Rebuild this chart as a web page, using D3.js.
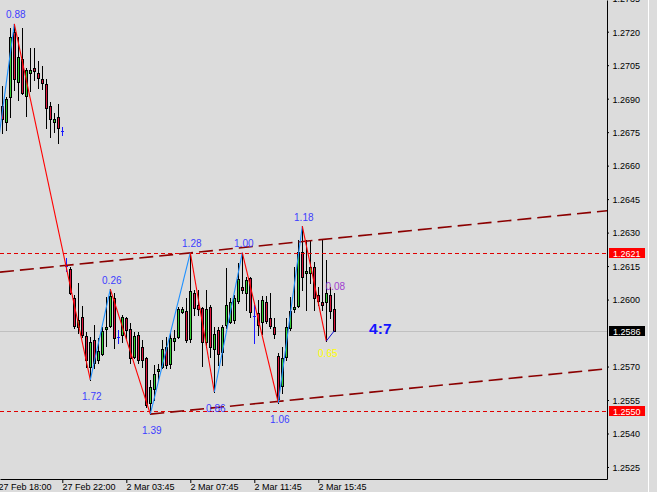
<!DOCTYPE html>
<html><head><meta charset="utf-8">
<script src="https://cdn.jsdelivr.net/npm/d3@7"></script>
<style>
html,body{margin:0;padding:0;background:#dcdcdc;overflow:hidden}
svg{display:block}
</style></head><body>
<svg id="c" width="657" height="492"></svg>
<script>
// ---- data (M15 bars, index 0 = 27 Feb 18:15) ----
const open = [1.26867,1.26795,1.26906,1.27197,1.26973,1.27076,1.26913,1.27014,1.27037,1.27015,1.26988,1.26964,1.26867,1.26794,1.26817,1.26755,
1.26150,1.26137,1.26007,1.25876,1.25923,1.25837,1.25697,1.25819,1.25729,1.25756,1.25868,1.25883,1.26008,1.25834,1.25841,1.25916,1.25867,1.25744,1.25841,1.25786,
1.25737,1.25535,1.25598,1.25680,1.25697,1.25786,1.25711,1.25816,1.25834,1.25946,1.25949,1.25822,1.26031,1.25976,1.25964,1.25811,1.25968,1.25777,1.25864,1.25766,
1.25886,1.25901,1.25908,1.25995,1.26058,1.26028,1.26095,1.25926,1.25938,1.25898,1.25988,1.25919,1.25878,1.25747,1.25614,1.25744,1.25871,1.25956,1.25972,1.26213,
1.26118,1.26118,1.26147,1.26020,1.25989,1.25988,1.26020,1.25958];
const high = [1.26957,1.26909,1.27217,1.27235,1.27178,1.27215,1.27037,1.27126,1.27126,1.27069,1.27048,1.26988,1.26886,1.26834,1.26876,1.26773,
1.26185,1.26147,1.26020,1.26076,1.25971,1.25856,1.25834,1.25886,1.25826,1.25878,1.26013,1.26047,1.26028,1.25864,1.25931,1.25923,1.25894,1.25856,1.25856,1.25819,
1.25744,1.25640,1.25707,1.25710,1.25819,1.25834,1.25849,1.25864,1.25968,1.25968,1.26006,1.26210,1.26043,1.26043,1.25968,1.26043,1.25976,1.25878,1.25878,1.25886,
1.26140,1.26006,1.26020,1.26162,1.26210,1.26102,1.26102,1.25976,1.25998,1.26016,1.26016,1.26028,1.25916,1.25759,1.25789,1.25916,1.26013,1.26147,1.26267,1.26329,
1.26267,1.26267,1.26170,1.26058,1.26270,1.26177,1.26058,1.26028];
const low = [1.26746,1.26760,1.26817,1.26939,1.26894,1.26921,1.26824,1.26936,1.26984,1.26946,1.26942,1.26767,1.26727,1.26749,1.26703,1.26737,
1.26129,1.26025,1.25871,1.25849,1.25834,1.25699,1.25640,1.25692,1.25714,1.25752,1.25793,1.25878,1.25782,1.25804,1.25811,1.25826,1.25714,1.25738,1.25714,1.25699,
1.25520,1.25487,1.25550,1.25640,1.25692,1.25692,1.25692,1.25774,1.25826,1.25938,1.25811,1.25811,1.25931,1.25931,1.25704,1.25789,1.25744,1.25586,1.25707,1.25707,
1.25871,1.25894,1.25894,1.25983,1.26028,1.25953,1.25923,1.25804,1.25841,1.25844,1.25895,1.25871,1.25826,1.25537,1.25580,1.25729,1.25864,1.25946,1.25968,1.26043,
1.25953,1.26074,1.25953,1.25976,1.25953,1.25814,1.25916,1.25858];
const close = [1.26808,1.26897,1.27175,1.26987,1.27085,1.26924,1.27028,1.27028,1.27025,1.26994,1.26972,1.26857,1.26808,1.26809,1.26767,1.26755,
1.26150,1.26028,1.25882,1.25908,1.25841,1.25729,1.25808,1.25714,1.25769,1.25859,1.25878,1.26017,1.25829,1.25834,1.25923,1.25864,1.25737,1.25837,1.25729,1.25729,
1.25528,1.25607,1.25667,1.25689,1.25778,1.25707,1.25826,1.25829,1.25958,1.25958,1.25819,1.26038,1.25964,1.25956,1.25811,1.25958,1.25789,1.25844,1.25756,1.25876,
1.25976,1.25990,1.26006,1.26091,1.26043,1.26088,1.25946,1.25926,1.25886,1.25998,1.25904,1.25883,1.25844,1.25555,1.25737,1.25878,1.25949,1.25968,1.26212,1.26100,
1.26129,1.26147,1.26006,1.25995,1.25974,1.26028,1.25950,1.25860];

const timeTickIndex = [-1, 15, 31, 47, 63, 79];
const timeTickLabels = ["27 Feb 18:00","27 Feb 22:00","2 Mar 03:45","2 Mar 07:45","2 Mar 11:45","2 Mar 15:45"];
const priceTicks = [1.2525,1.2540,1.2555,1.2570,1.2600,1.2615,1.2630,1.2645,1.2660,1.2675,1.2690,1.2705,1.2720,1.2735];

// zigzag swing points
const zzIndex = [-2, 3, 22, 27, 37, 47, 53, 60, 69, 75, 81];
const zzPrice = [1.26576,1.27235,1.25640,1.26047,1.25487,1.26210,1.25586,1.26210,1.25537,1.26329,1.25814];
const zzLabels = [null,"0.88","1.72","0.26","1.39","1.28","0.86","1.00","1.06","1.18","0.65"];
const currentLegIndex = [81, 83];
const currentLegPrice = [1.25814, 1.25860];
const currentLegLabel = "0.08";
const currentLegLabelPrice = 1.26043;

const levelPrices = [1.2621, 1.2550];
const lastPrice = 1.2586;
const upperTrendIndex = [-0.575, 151.2];
const upperTrendPrice = [1.26123, 1.26398];
const lowerTrendIndex = [37, 151.2];
const lowerTrendPrice = [1.25487, 1.25690];
const ratioText = "4:7";
const ratioIndex = 91.7;
const ratioPrice = 1.25844;

// ---- drawing ----
const W = 607, H = 479;
const svg = d3.select("#c");
const x = d3.scaleLinear().domain([-0.575, 151.175]).range([0, W]);
const y = d3.scaleLinear().domain([1.251962, 1.273420]).range([H, 0]);
const FONT = "'Liberation Sans', Arial, sans-serif";

svg.append("rect").attr("width",657).attr("height",492).attr("fill","#dcdcdc");
svg.append("defs").append("clipPath").attr("id","plot").append("rect").attr("width",W).attr("height",H);
const g = svg.append("g").attr("clip-path","url(#plot)");

// last price grey line
g.append("line").attr("x1",0).attr("x2",W)
  .attr("y1",Math.round(y(lastPrice))+0.5).attr("y2",Math.round(y(lastPrice))+0.5)
  .attr("stroke","#c0c0c0").attr("stroke-width",1);

// candles
const bars = d3.range(open.length).map(i => ({i, o:open[i], h:high[i], l:low[i], c:close[i]}));
const cg = g.append("g");
bars.forEach(b => {
  const cx = Math.floor(x(b.i));
  const doji = b.o === b.c;
  const col = doji ? "#1a1aff" : "#000";
  cg.append("line").attr("x1",cx+0.5).attr("x2",cx+0.5)
    .attr("y1",Math.round(y(b.h))).attr("y2",Math.round(y(b.l))+1)
    .attr("stroke",col).attr("stroke-width",1);
  if (doji) {
    const yy = Math.round(y(b.o))+0.5;
    cg.append("line").attr("x1",cx-1).attr("x2",cx+2).attr("y1",yy).attr("y2",yy)
      .attr("stroke",col).attr("stroke-width",1);
  } else {
    const top = Math.round(y(Math.max(b.o,b.c)));
    const bot = Math.round(y(Math.min(b.o,b.c)));
    cg.append("rect").attr("x",cx-0.5).attr("y",top+0.5)
      .attr("width",2).attr("height",Math.max(1,bot-top))
      .attr("fill", b.c > b.o ? "#32cd32" : "#dc143c")
      .attr("stroke","#000").attr("stroke-width",1);
  }
});

// horizontal levels
levelPrices.forEach(p => {
  const yy = Math.round(y(p))+0.5;
  g.append("line").attr("x1",0).attr("x2",W).attr("y1",yy).attr("y2",yy)
    .attr("stroke","#e00000").attr("stroke-width",1).attr("stroke-dasharray","4,3");
});

// trend channel
[[upperTrendIndex, upperTrendPrice],[lowerTrendIndex, lowerTrendPrice]].forEach(([ix, pr]) => {
  g.append("line").attr("x1",x(ix[0])).attr("x2",x(ix[1]))
    .attr("y1",y(pr[0])).attr("y2",y(pr[1]))
    .attr("stroke","#8b0000").attr("stroke-width",1.6).attr("stroke-dasharray","14,6");
});

// zigzag
for (let k = 1; k < zzIndex.length; k++) {
  const up = zzPrice[k] > zzPrice[k-1];
  g.append("line").attr("x1",x(zzIndex[k-1])).attr("y1",y(zzPrice[k-1]))
    .attr("x2",x(zzIndex[k])).attr("y2",y(zzPrice[k]))
    .attr("stroke", up ? "#1e90ff" : "#ff0000").attr("stroke-width",1.1);
}
g.append("line").attr("x1",x(currentLegIndex[0])).attr("y1",y(currentLegPrice[0]))
  .attr("x2",x(currentLegIndex[1])).attr("y2",y(currentLegPrice[1]))
  .attr("stroke","#1010d0").attr("stroke-width",1);

// zigzag labels
zzLabels.forEach((t, k) => {
  if (!t) return;
  const isHigh = zzPrice[k] > zzPrice[k-1];
  const last = k === zzLabels.length - 1;
  g.append("text").attr("x", x(zzIndex[k]) + 1.5)
    .attr("y", y(zzPrice[k]) + (isHigh ? -5.5 : (last ? 16 : 20)))
    .attr("text-anchor","middle").attr("font-family",FONT).attr("font-size","10px")
    .attr("fill", last ? "#ffff00" : "#3c3cff").text(t);
});
g.append("text").attr("x", x(currentLegIndex[1]) + 1).attr("y", y(currentLegLabelPrice))
  .attr("text-anchor","middle").attr("font-family",FONT).attr("font-size","10px")
  .attr("fill","#a040d0").text(currentLegLabel);

g.append("text").attr("x", x(ratioIndex)).attr("y", y(ratioPrice))
  .attr("font-family",FONT).attr("font-size","15.5px").attr("font-weight","bold")
  .attr("fill","#1414ff").text(ratioText);

// price axis
const ya = svg.append("g").attr("transform",`translate(${W},0)`)
  .call(d3.axisRight(y).tickValues(priceTicks).tickSize(2).tickSizeOuter(0).tickPadding(3.5)
    .tickFormat(d3.format(".4f")));
ya.selectAll("text").attr("font-family",FONT).attr("font-size","9px").attr("fill","#000").attr("dy","0.37em");
ya.selectAll("line").attr("stroke","#000");
ya.select(".domain").attr("stroke","#000");

// time axis
const xa = svg.append("g").attr("transform",`translate(0,${H})`)
  .call(d3.axisBottom(x).tickValues(timeTickIndex).tickSize(4).tickSizeOuter(0).tickPadding(1)
    .tickFormat((d,i) => timeTickLabels[i]));
xa.selectAll("text").attr("font-family",FONT).attr("font-size","9px").attr("fill","#000")
  .attr("text-anchor","start").attr("dx","-0.3");
xa.selectAll("line").attr("stroke","#000");
xa.select(".domain").attr("stroke","#000");

// price labels on axis
function priceTag(p, bg, fg) {
  const yy = Math.round(y(p));
  svg.append("rect").attr("x",W+2).attr("y",yy-5).attr("width",36).attr("height",10).attr("fill",bg);
  svg.append("text").attr("x",W+6).attr("y",yy+3.5).attr("font-family",FONT).attr("font-size","9px")
    .attr("fill",fg).text(d3.format(".4f")(p));
}
levelPrices.forEach(p => priceTag(p, "#ff0000", "#fff"));
priceTag(lastPrice, "#000", "#fff");

// window edge
svg.append("rect").attr("x",648).attr("y",0).attr("width",1).attr("height",492).attr("fill","#fff");
</script>
</body></html>
